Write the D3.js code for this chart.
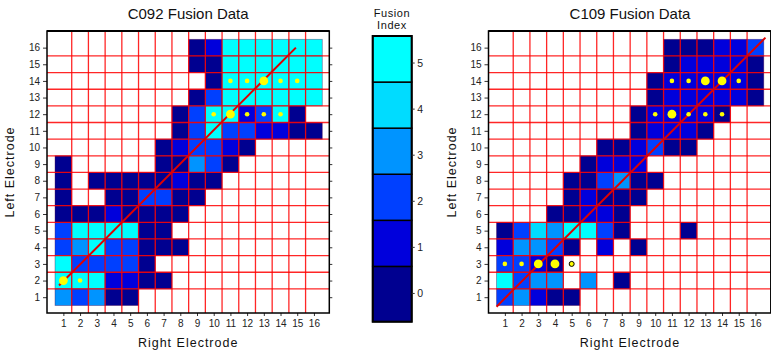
<!DOCTYPE html>
<html><head><meta charset="utf-8">
<script src="https://cdn.jsdelivr.net/npm/d3@7"></script>
<style>body{margin:0;background:#fff}svg{display:block;font-family:"Liberation Sans",Arial,sans-serif}</style>
</head><body><svg id="c" width="771" height="352"></svg>
<script>
// ---------- data ----------
const electrodes = d3.range(1, 17);
const tickLabels = electrodes.map(String);
const indexLevels = [0, 1, 2, 3, 4, 5];
const indexColors = ["#000090", "#0000DC", "#0040FF", "#0094FF", "#00DCFF", "#00FFFF"];
const n = null;
// rows listed from Left Electrode 16 (top) down to 1; columns = Right Electrode 1..16
const c092Rows = [
  [n,n,n,n,n,n,n,n,0,1,5,5,5,5,5,5],
  [n,n,n,n,n,n,n,n,0,0,5,5,5,5,5,5],
  [n,n,n,n,n,n,n,n,n,0,5,5,5,5,5,5],
  [n,n,n,n,n,n,n,n,0,2,5,5,5,5,5,5],
  [n,n,n,n,n,n,n,0,2,5,5,1,2,5,0,n],
  [n,n,n,n,n,n,n,0,2,5,2,2,1,1,0,0],
  [n,n,n,n,n,n,0,1,2,2,1,0,n,n,n,n],
  [0,n,n,n,n,n,0,0,3,2,0,n,n,n,n,n],
  [0,n,0,0,0,0,0,1,0,0,n,n,n,n,n,n],
  [0,n,n,0,0,2,2,0,0,n,n,n,n,n,n,n],
  [0,0,0,1,0,0,0,0,n,n,n,n,n,n,n,n],
  [2,5,5,5,5,0,0,n,n,n,n,n,n,n,n,n],
  [2,3,5,2,2,0,0,0,n,n,n,n,n,n,n,n],
  [5,2,2,2,2,0,n,n,n,n,n,n,n,n,n,n],
  [5,5,5,1,1,0,0,n,n,n,n,n,n,n,n,n],
  [3,2,3,0,0,n,n,n,n,n,n,n,n,n,n,n]
];
const c109Rows = [
  [n,n,n,n,n,n,n,n,n,n,0,0,0,1,1,2],
  [n,n,n,n,n,n,n,n,n,n,0,1,1,1,1,0],
  [n,n,n,n,n,n,n,n,n,0,1,1,1,1,1,0],
  [n,n,n,n,n,n,n,n,n,0,1,1,1,1,1,0],
  [n,n,n,n,n,n,n,n,0,1,1,1,1,0,n,n],
  [n,n,n,n,n,n,n,n,0,1,1,1,0,n,n,n],
  [n,n,n,n,n,n,0,0,1,2,0,0,n,n,n,n],
  [n,n,n,n,n,0,1,1,1,n,n,n,n,n,n,n],
  [n,n,n,n,0,0,2,3,0,0,n,n,n,n,n,n],
  [n,n,n,n,0,1,0,0,0,n,n,n,n,n,n,n],
  [n,n,n,0,0,1,1,0,n,n,n,n,n,n,n,n],
  [0,2,4,3,5,5,2,0,n,n,n,0,n,n,n,n],
  [1,3,3,2,0,n,1,n,0,n,n,n,n,n,n,n],
  [2,2,1,0,n,n,n,n,n,n,n,n,n,n,n,n],
  [5,2,3,3,n,3,n,0,n,n,n,n,n,n,n,n],
  [2,3,1,0,0,n,n,n,n,n,n,n,n,n,n,n]
];
const c092DotX = [11,12,13,14,15,10,11,12,13,14,1,2];
const c092DotY = [14,14,14,14,14,12,12,12,12,12,2,2];
const c092DotSize = [1,1,2,1,1,1,2,1,1,1,2,1];
const c109DotX = [11,12,13,14,15,10,11,12,13,14,1,2,3,4,5];
const c109DotY = [14,14,14,14,14,12,12,12,12,12,3,3,3,3,3];
const c109DotSize = [1,1,2,2,1,1,2,1,1,1,1,1,2,2,1];
const c109OpenDotX = [5], c109OpenDotY = [3];
const c092FitX = [0.74, 14.92], c092FitY = [1.7, 16.0];
const c109FitX = [0.5, 16.6], c109FitY = [0.43, 16.6];

// ---------- drawing ----------
const svg = d3.select("#c");
const color = d3.scaleOrdinal().domain(indexLevels).range(indexColors);
const rScale = d3.scaleOrdinal().domain([1, 2]).range([2.3, 4.4]);

function drawChart(cfg) {
  const x = d3.scaleLinear().domain([0.02, 16.92]).range(cfg.xr);
  const y = d3.scaleLinear().domain([0.05, 17]).range([313, 31]);
  const g = svg.append("g");
  const cells = [];
  cfg.rows.forEach((row, i) => row.forEach((v, j) => { if (v !== null) cells.push({c: j + 1, r: 16 - i, v}); }));
  g.selectAll("rect.cell").data(cells).join("rect")
    .attr("x", d => x(d.c - 0.5)).attr("y", d => y(d.r + 0.5))
    .attr("width", d => x(d.c + 0.5) - x(d.c - 0.5))
    .attr("height", d => y(d.r - 0.5) - y(d.r + 0.5))
    .attr("fill", d => color(d.v))
    .attr("stroke", "rgba(70,0,70,0.45)").attr("stroke-width", 0.8);
  // grid
  const gl = d3.range(1.5, 16, 1);
  const [x0, x1] = x.range(), [y0, y1] = y.range();
  g.selectAll("line.gv").data(gl).join("line")
    .attr("x1", d => x(d)).attr("x2", d => x(d)).attr("y1", y0).attr("y2", y1)
    .attr("stroke", "#ff0000").attr("stroke-width", 1.3).attr("stroke-opacity", 0.85);
  g.selectAll("line.gh").data(gl).join("line")
    .attr("y1", d => y(d)).attr("y2", d => y(d)).attr("x1", x0).attr("x2", x1)
    .attr("stroke", "#ff0000").attr("stroke-width", 1.3).attr("stroke-opacity", 0.85);
  // fit line
  g.append("line")
    .attr("x1", x(cfg.fitX[0])).attr("y1", y(cfg.fitY[0]))
    .attr("x2", x(cfg.fitX[1])).attr("y2", y(cfg.fitY[1]))
    .attr("stroke", "#e00000").attr("stroke-width", 2);
  // dots
  g.selectAll("circle.dot").data(cfg.dotX.map((d, i) => ({c: d, r: cfg.dotY[i], s: cfg.dotS[i]}))).join("circle")
    .attr("cx", d => x(d.c)).attr("cy", d => y(d.r)).attr("r", d => rScale(d.s))
    .attr("fill", "#ffff00");
  if (cfg.openX) {
    g.selectAll("circle.open").data(cfg.openX.map((d, i) => ({c: d, r: cfg.openY[i]}))).join("circle")
      .attr("cx", d => x(d.c)).attr("cy", d => y(d.r)).attr("r", 2.5)
      .attr("fill", "#ffff00").attr("stroke", "#000").attr("stroke-width", 1);
  }
  // axes
  const fmt = (d, i) => tickLabels[i];
  const ax = g.append("g").attr("transform", `translate(${x0},0)`)
    .call(d3.axisLeft(y).tickValues(electrodes).tickFormat(fmt).tickSize(4).tickPadding(3));
  const ar = g.append("g").attr("transform", `translate(${x1},0)`)
    .call(d3.axisRight(y).tickValues(electrodes).tickFormat("").tickSize(3));
  const ab = g.append("g").attr("transform", `translate(0,${y0})`)
    .call(d3.axisBottom(x).tickValues(electrodes).tickFormat(fmt).tickSize(3).tickPadding(4));
  [ax, ar, ab].forEach(a => {
    a.select(".domain").remove();
    a.selectAll(".tick line").attr("stroke", "#333").attr("stroke-width", 1);
    a.selectAll("text").attr("font-size", 10).attr("fill", "#222")
      .attr("font-family", '"Liberation Sans",Arial,sans-serif');
  });
  g.append("rect").attr("x", x0).attr("y", y1).attr("width", x1 - x0).attr("height", y0 - y1)
    .attr("fill", "none").attr("stroke", "#000").attr("stroke-width", 1.5);
  g.append("line").attr("x1", x0).attr("x2", x1).attr("y1", y1).attr("y2", y1)
    .attr("stroke", "#000").attr("stroke-width", 2.2);
  // texts
  const cx = (x0 + x1) / 2;
  g.append("text").attr("x", cfg.titleX || cx).attr("y", 19).attr("text-anchor", "middle")
    .attr("font-size", 15).attr("fill", "#111").text(cfg.title);
  g.append("text").attr("x", cfg.titleX || cx).attr("y", 347).attr("text-anchor", "middle")
    .attr("font-size", 12.5).attr("letter-spacing", 1).attr("fill", "#111").text("Right Electrode");
  g.append("text").attr("transform", `translate(${x0 - 33},${(y0 + y1) / 2}) rotate(-90)`)
    .attr("text-anchor", "middle").attr("font-size", 12.5).attr("letter-spacing", 1)
    .attr("fill", "#111").text("Left Electrode");
}

drawChart({rows: c092Rows, dotX: c092DotX, dotY: c092DotY, dotS: c092DotSize,
  fitX: c092FitX, fitY: c092FitY, xr: [47, 329.3], title: "C092 Fusion Data"});
drawChart({rows: c109Rows, dotX: c109DotX, dotY: c109DotY, dotS: c109DotSize,
  openX: c109OpenDotX, openY: c109OpenDotY,
  fitX: c109FitX, fitY: c109FitY, xr: [488.5, 770.8], title: "C109 Fusion Data", titleX: 630});

// colorbar
const cb = d3.scaleLinear().domain([-0.7, 5.5]).range([321.7, 36]);
const cbx0 = 372.7, cbx1 = 411.7;
const cg = svg.append("g");
cg.selectAll("rect").data(indexLevels).join("rect")
  .attr("x", cbx0).attr("width", cbx1 - cbx0)
  .attr("y", d => cb(d + 0.5))
  .attr("height", d => cb(d === 0 ? -0.7 : d - 0.5) - cb(d + 0.5))
  .attr("fill", d => color(d)).attr("stroke", "#000").attr("stroke-width", 1.5);
cg.append("rect").attr("x", cbx0).attr("y", cb(5.5)).attr("width", cbx1 - cbx0)
  .attr("height", cb(-0.7) - cb(5.5)).attr("fill", "none").attr("stroke", "#000").attr("stroke-width", 2);
cg.selectAll("line.t").data(indexLevels).join("line")
  .attr("x1", cbx1).attr("x2", cbx1 + 3).attr("y1", d => cb(d) + 4).attr("y2", d => cb(d) + 4)
  .attr("stroke", "#333");
cg.selectAll("text.l").data(indexLevels).join("text")
  .attr("x", cbx1 + 5.5).attr("y", d => cb(d) + 4).attr("dy", "0.35em")
  .attr("font-size", 10.5).attr("fill", "#222").text(d => d);
cg.append("text").attr("x", 392).attr("y", 16.5).attr("text-anchor", "middle")
  .attr("font-size", 11).attr("letter-spacing", 0.6).attr("fill", "#111").text("Fusion");
cg.append("text").attr("x", 392).attr("y", 29).attr("text-anchor", "middle")
  .attr("font-size", 11).attr("letter-spacing", 0.6).attr("fill", "#111").text("Index");
</script></body></html>
